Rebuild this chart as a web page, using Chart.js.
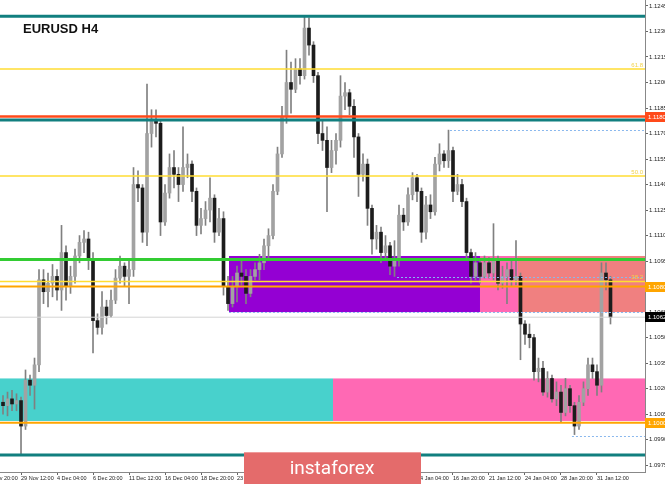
<!DOCTYPE html>
<html>
<head>
<meta charset="utf-8">
<title>EURUSD H4</title>
<script src="https://cdn.jsdelivr.net/npm/chart.js@4.4.1/dist/chart.umd.min.js"></script>
<style>
  html, body { margin: 0; padding: 0; background: #fff; }
  #wrap { width: 665px; height: 484px; }
</style>
</head>
<body>
<div id="wrap"><canvas id="chart" width="665" height="484"></canvas></div>
<script>
// H8 candles, index of the first one (x units = candles)
const firstCandle = -4;
// [open, high, low, close]
const candles = [
  [1.1012, 1.1016, 1.1005, 1.1010], [1.1010, 1.1018, 1.1004, 1.1014], [1.1014, 1.1019, 1.1007, 1.1011], [1.1011, 1.1017, 1.1007, 1.1013],
  [1.1013, 1.1015, 1.0981, 1.0998], [1.0998, 1.1031, 1.0996, 1.1025], [1.1025, 1.1028, 1.1016, 1.1022], [1.1022, 1.1038, 1.1008, 1.1034],
  [1.1034, 1.1090, 1.1030, 1.1084], [1.1084, 1.1090, 1.1070, 1.1077], [1.1077, 1.1088, 1.1068, 1.1082], [1.1082, 1.1093, 1.1074, 1.1086],
  [1.1086, 1.1090, 1.1072, 1.1078], [1.1078, 1.1116, 1.1066, 1.1100], [1.1100, 1.1104, 1.1072, 1.1080], [1.1080, 1.1092, 1.1076, 1.1086],
  [1.1086, 1.1102, 1.1082, 1.1098], [1.1098, 1.1110, 1.1094, 1.1106], [1.1106, 1.1113, 1.1100, 1.1108], [1.1108, 1.1112, 1.1090, 1.1096],
  [1.1096, 1.1100, 1.1041, 1.1060], [1.1060, 1.1064, 1.1052, 1.1056], [1.1056, 1.1077, 1.1052, 1.1068], [1.1068, 1.1072, 1.1058, 1.1063],
  [1.1063, 1.1078, 1.1062, 1.1072], [1.1072, 1.1090, 1.1070, 1.1085], [1.1085, 1.1098, 1.1082, 1.1092], [1.1092, 1.1094, 1.1080, 1.1086],
  [1.1086, 1.1096, 1.1070, 1.1090], [1.1090, 1.1150, 1.1086, 1.1140], [1.1140, 1.1148, 1.1130, 1.1138], [1.1138, 1.1140, 1.1106, 1.1112],
  [1.1112, 1.1199, 1.1104, 1.1170], [1.1170, 1.1184, 1.1162, 1.1178], [1.1178, 1.1184, 1.1168, 1.1176], [1.1176, 1.1178, 1.1110, 1.1118],
  [1.1118, 1.1140, 1.1116, 1.1135], [1.1135, 1.1158, 1.1132, 1.1150], [1.1150, 1.1160, 1.1138, 1.1146], [1.1146, 1.1150, 1.1130, 1.1140],
  [1.1140, 1.1174, 1.1136, 1.1150], [1.1150, 1.1158, 1.1144, 1.1152], [1.1152, 1.1154, 1.1130, 1.1136], [1.1136, 1.1138, 1.1110, 1.1116],
  [1.1116, 1.1126, 1.1111, 1.1120], [1.1120, 1.1130, 1.1116, 1.1125], [1.1125, 1.1144, 1.1118, 1.1132], [1.1132, 1.1134, 1.1106, 1.1112],
  [1.1112, 1.1126, 1.1110, 1.1120], [1.1120, 1.1124, 1.1075, 1.1080], [1.1080, 1.1086, 1.1066, 1.1070], [1.1070, 1.1086, 1.1068, 1.1080],
  [1.1080, 1.1092, 1.1071, 1.1088], [1.1088, 1.1095, 1.1081, 1.1086], [1.1086, 1.1090, 1.1070, 1.1076], [1.1076, 1.1090, 1.1074, 1.1086],
  [1.1086, 1.1094, 1.1084, 1.1090], [1.1090, 1.1099, 1.1084, 1.1094], [1.1094, 1.1108, 1.1090, 1.1104], [1.1104, 1.1114, 1.1096, 1.1110],
  [1.1110, 1.1140, 1.1108, 1.1136], [1.1136, 1.1162, 1.1134, 1.1158], [1.1158, 1.1186, 1.1156, 1.1180], [1.1180, 1.1219, 1.1176, 1.1200],
  [1.1200, 1.1212, 1.1182, 1.1196], [1.1196, 1.1214, 1.1194, 1.1208], [1.1208, 1.1214, 1.1199, 1.1204], [1.1204, 1.1239, 1.1202, 1.1232],
  [1.1232, 1.1238, 1.1216, 1.1222], [1.1222, 1.1224, 1.1200, 1.1204], [1.1204, 1.1206, 1.1164, 1.1170], [1.1170, 1.1178, 1.1160, 1.1166],
  [1.1166, 1.1174, 1.1124, 1.1150], [1.1150, 1.1166, 1.1147, 1.1160], [1.1160, 1.1170, 1.1152, 1.1166], [1.1166, 1.1204, 1.1162, 1.1192],
  [1.1192, 1.1200, 1.1184, 1.1194], [1.1194, 1.1196, 1.1181, 1.1186], [1.1186, 1.1190, 1.1156, 1.1168], [1.1168, 1.1170, 1.1133, 1.1146],
  [1.1146, 1.1158, 1.1142, 1.1152], [1.1152, 1.1155, 1.1116, 1.1126], [1.1126, 1.1128, 1.1099, 1.1108], [1.1108, 1.1116, 1.1102, 1.1112],
  [1.1112, 1.1115, 1.1094, 1.1100], [1.1100, 1.1110, 1.1096, 1.1104], [1.1104, 1.1106, 1.1087, 1.1092], [1.1092, 1.1107, 1.1086, 1.1096],
  [1.1096, 1.1128, 1.1092, 1.1122], [1.1122, 1.1126, 1.1113, 1.1118], [1.1118, 1.1138, 1.1116, 1.1134], [1.1134, 1.1147, 1.1131, 1.1144],
  [1.1144, 1.1146, 1.1130, 1.1136], [1.1136, 1.1138, 1.1106, 1.1112], [1.1112, 1.1133, 1.1108, 1.1128], [1.1128, 1.1134, 1.1120, 1.1124],
  [1.1124, 1.1156, 1.1122, 1.1152], [1.1152, 1.1164, 1.1148, 1.1158], [1.1158, 1.1160, 1.1150, 1.1154], [1.1154, 1.1172, 1.1150, 1.1160],
  [1.1160, 1.1162, 1.1130, 1.1136], [1.1136, 1.1146, 1.1134, 1.1140], [1.1140, 1.1143, 1.1127, 1.1130], [1.1130, 1.1132, 1.1096, 1.1100],
  [1.1100, 1.1102, 1.1082, 1.1086], [1.1086, 1.1100, 1.1084, 1.1094], [1.1094, 1.1096, 1.1082, 1.1086], [1.1086, 1.1098, 1.1085, 1.1094],
  [1.1094, 1.1097, 1.1085, 1.1088], [1.1088, 1.1117, 1.1084, 1.1096], [1.1096, 1.1098, 1.1078, 1.1082], [1.1082, 1.1092, 1.1079, 1.1086],
  [1.1086, 1.1094, 1.1070, 1.1090], [1.1090, 1.1096, 1.1080, 1.1084], [1.1084, 1.1107, 1.1081, 1.1086], [1.1086, 1.1088, 1.1037, 1.1058],
  [1.1058, 1.1060, 1.1046, 1.1052], [1.1052, 1.1058, 1.1044, 1.1050], [1.1050, 1.1052, 1.1025, 1.1030], [1.1030, 1.1038, 1.1024, 1.1032],
  [1.1032, 1.1036, 1.1016, 1.1018], [1.1018, 1.1030, 1.1015, 1.1026], [1.1026, 1.1028, 1.1012, 1.1014], [1.1014, 1.1024, 1.1010, 1.1018],
  [1.1018, 1.1022, 1.1000, 1.1006], [1.1006, 1.1026, 1.1004, 1.1020], [1.1020, 1.1022, 1.1006, 1.1010], [1.1010, 1.1012, 1.0993, 1.0998],
  [1.0998, 1.1016, 1.0996, 1.1012], [1.1012, 1.1024, 1.1010, 1.1020], [1.1020, 1.1038, 1.1016, 1.1034], [1.1034, 1.1038, 1.1026, 1.1030],
  [1.1030, 1.1034, 1.1016, 1.1022], [1.1022, 1.1094, 1.1018, 1.1088], [1.1088, 1.1094, 1.1078, 1.1084], [1.1084, 1.1086, 1.1058, 1.1062],
];

const xMin = -4.67;
const xMax = 138.67;
const xTickValues = [-8, 0, 8, 16, 24, 32, 40, 48, 56, 64, 72, 80, 88, 96, 104, 112, 120, 128];
const xTickLabels = [
  "27 Nov 20:00", "29 Nov 12:00", "4 Dec 04:00", "6 Dec 20:00", "11 Dec 12:00", "16 Dec 04:00",
  "18 Dec 20:00", "23 Dec 12:00", "27 Dec 04:00", "31 Dec 20:00", "6 Jan 12:00", "9 Jan 04:00",
  "14 Jan 04:00", "16 Jan 20:00", "21 Jan 12:00", "24 Jan 04:00", "28 Jan 20:00", "31 Jan 12:00",
];

const yMin = 1.0971;
const yMax = 1.12485;
const yTickValues = [
  1.0975, 1.0990, 1.1005, 1.1020, 1.1035, 1.1050, 1.1065, 1.1080, 1.1095, 1.1110,
  1.1125, 1.1140, 1.1155, 1.1170, 1.1185, 1.1200, 1.1215, 1.1230, 1.1245,
];

// horizontal levels drawn across the whole chart
const levelPrices = [1.1239, 1.1208, 1.1180, 1.1178, 1.1145, 1.1096, 1.1083, 1.1080, 1.1062, 1.1000, 1.0981];
// dotted levels, starting at a candle index
const dottedPrices = [1.1172, 1.10855, 1.1065, 1.0992];
const dottedFrom = [95.33, 83.56, 46.22, 122.44];
// rectangles (supply / demand zones)
const zoneFrom = [xMin, 69.33, 46.22, 102.0, 110.44];
const zoneTo = [69.33, xMax, 102.0, 110.44, xMax];
const zoneTop = [1.1026, 1.1026, 1.1098, 1.1098, 1.1098];
const zoneBottom = [1.1001, 1.1001, 1.1065, 1.1065, 1.1065];
// fibo labels
const fibPrices = [1.1208, 1.1145, 1.1083];
const fibLabels = ["61.8", "50.0", "38.2"];
// price markers on the right scale
const markerPrices = [1.1180, 1.1080, 1.1062, 1.1000];

// styles
const levelColors = ["#117f7f", "#ffdd33", "#ff4a1a", "#117f7f", "#ffdd33", "#33cc33", "#ffdd33", "#ffa500", "#d4d4d4", "#ffa500", "#117f7f"];
const levelWidths = [3, 1.5, 2.5, 3, 1.5, 3, 1.5, 2, 1, 2, 3];
const zoneColors = ["#48d1cc", "#ff69b4", "#9400d3", "#ff69b4", "#f08080"];
const markerColors = ["#ff4a1a", "#ffa500", "#000000", "#ffa500"];

const bodyData = candles.map((c, k) => ({ x: firstCandle + k, y: [c[0], c[3]] }));
const wickData = candles.map((c, k) => ({ x: firstCandle + k, y: [c[2], c[1]] }));
const isBull = candles.map((c) => c[3] >= c[0]);

const overlay = {
  id: "overlay",
  beforeDatasetsDraw(chart) {
    const { ctx, chartArea: a, scales: { x, y } } = chart;
    ctx.save();
    ctx.beginPath();
    ctx.rect(a.left, a.top, a.right - a.left, a.bottom - a.top);
    ctx.clip();
    zoneFrom.forEach((from, k) => {
      const x0 = x.getPixelForValue(from);
      const x1 = x.getPixelForValue(zoneTo[k]);
      const y0 = y.getPixelForValue(zoneTop[k]);
      const y1 = y.getPixelForValue(zoneBottom[k]);
      ctx.fillStyle = zoneColors[k];
      ctx.fillRect(x0, y0, x1 - x0, y1 - y0);
    });
    ctx.restore();
  },
  afterDatasetsDraw(chart) {
    const { ctx, chartArea: a, scales: { x, y } } = chart;
    ctx.save();
    ctx.beginPath();
    ctx.rect(a.left, a.top, a.right - a.left, a.bottom - a.top);
    ctx.clip();

    ctx.setLineDash([2, 2]);
    ctx.strokeStyle = "#8ab8ee";
    ctx.lineWidth = 1;
    dottedPrices.forEach((p, k) => {
      const py = Math.round(y.getPixelForValue(p)) + 0.5;
      ctx.beginPath();
      ctx.moveTo(x.getPixelForValue(dottedFrom[k]), py);
      ctx.lineTo(a.right, py);
      ctx.stroke();
    });
    ctx.setLineDash([]);

    levelPrices.forEach((p, k) => {
      const py = y.getPixelForValue(p);
      ctx.strokeStyle = levelColors[k];
      ctx.lineWidth = levelWidths[k];
      ctx.beginPath();
      ctx.moveTo(a.left, py);
      ctx.lineTo(a.right, py);
      ctx.stroke();
    });

    ctx.fillStyle = "#f2d24a";
    ctx.font = "6px 'Liberation Sans'";
    ctx.textAlign = "right";
    ctx.textBaseline = "bottom";
    fibPrices.forEach((p, k) => {
      ctx.fillText(fibLabels[k], a.right - 2, y.getPixelForValue(p) - 1);
    });
    ctx.restore();
  },
  afterDraw(chart) {
    const { ctx, chartArea: a, scales: { y } } = chart;
    ctx.save();
    ctx.font = "6px 'Liberation Sans'";
    ctx.textAlign = "left";
    ctx.textBaseline = "middle";
    markerPrices.forEach((p, k) => {
      const py = Math.round(y.getPixelForValue(p));
      ctx.fillStyle = markerColors[k];
      ctx.fillRect(a.right, py - 5, 20, 10);
      ctx.fillStyle = "#ffffff";
      ctx.fillText(p.toFixed(4), a.right + 3, py + 0.5);
    });

    ctx.fillStyle = "#111";
    ctx.font = "bold 13px 'Liberation Sans'";
    ctx.textBaseline = "alphabetic";
    ctx.fillText("EURUSD H4", 23, 33);

    ctx.fillStyle = "#e46b6b";
    ctx.fillRect(244, 452, 177, 32);
    ctx.fillStyle = "#ef9a9a";
    ctx.fillRect(244, 452, 177, 1);
    ctx.fillStyle = "#ffffff";
    ctx.font = "19px Roboto";
    ctx.textAlign = "center";
    ctx.fillText("instaforex", 332, 474);
    ctx.restore();
  },
};

new Chart(document.getElementById("chart"), {
  type: "bar",
  data: {
    datasets: [
      {
        label: "body",
        data: bodyData,
        grouped: false,
        barThickness: 3,
        minBarLength: 1,
        backgroundColor: isBull.map((b) => (b ? "#a2a2a2" : "#1c1c1c")),
        borderWidth: 0,
      },
      {
        label: "wick",
        data: wickData,
        grouped: false,
        barThickness: 1,
        backgroundColor: "#808080",
        borderWidth: 0,
      },
    ],
  },
  options: {
    responsive: false,
    animation: false,
    devicePixelRatio: 1,
    layout: { padding: 0 },
    plugins: { legend: { display: false }, tooltip: { enabled: false } },
    scales: {
      x: {
        type: "linear",
        offset: false,
        min: xMin,
        max: xMax,
        afterBuildTicks: (scale) => {
          scale.ticks = xTickValues.map((v) => ({ value: v }));
        },
        afterFit: (scale) => {
          scale.height = 12;
          scale.paddingLeft = 0;
          scale.paddingRight = 0;
        },
        ticks: {
          autoSkip: false,
          maxRotation: 0,
          align: "start",
          padding: 0,
          color: "#222",
          font: { family: "Liberation Sans", size: 5.5 },
          callback: (v) => xTickLabels[xTickValues.indexOf(v)] ?? "",
        },
        grid: { offset: false, drawOnChartArea: false, tickLength: 3, color: "#666" },
        border: { display: true, color: "#888" },
      },
      y: {
        position: "right",
        min: yMin,
        max: yMax,
        afterBuildTicks: (scale) => {
          scale.ticks = yTickValues.map((v) => ({ value: v }));
        },
        afterFit: (scale) => {
          scale.width = 20;
          scale.paddingTop = 0;
          scale.paddingBottom = 0;
        },
        ticks: {
          padding: 1,
          color: "#222",
          font: { family: "Liberation Sans", size: 6 },
          callback: (v) => v.toFixed(4),
        },
        grid: { drawOnChartArea: false, tickLength: 3, color: "#666" },
        border: { display: true, color: "#888" },
      },
    },
  },
  plugins: [overlay],
});
</script>
</body>
</html>
